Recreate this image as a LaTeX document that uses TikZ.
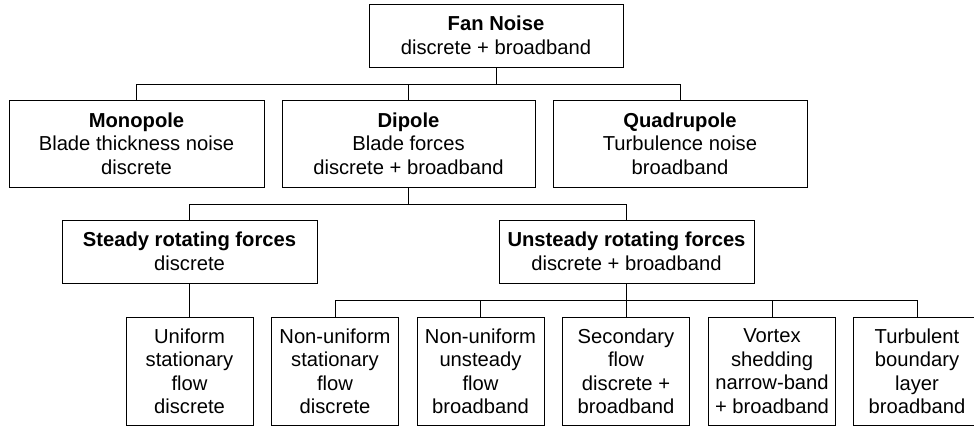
\documentclass[tikz,border=0pt]{standalone}
\usepackage{fontspec}
\setmainfont{Liberation Sans}
\begin{document}
\begin{tikzpicture}[x=1pt,y=-1pt,
  box/.style={draw=black,line width=1pt,rectangle,align=center,inner sep=0pt,
    font=\fontsize{20.2pt}{23.5pt}\selectfont},
  wide/.style={box,minimum width=254pt,minimum height=87pt},
  mid/.style={box,minimum width=255pt,minimum height=63pt},
  leaf/.style={box,minimum width=127pt,minimum height=108.5pt},
  link/.style={line width=1pt,line cap=rect}]
\clip (0,0) rectangle (974,426);
\fill[white] (0,0) rectangle (974,426);
\node[mid,minimum width=254pt] (fan) at (496,35.5) {\textbf{Fan Noise}\\discrete + broadband};
\node[wide,minimum width=255pt] (mono) at (136.5,143.5) {\textbf{Monopole}\\Blade thickness noise\\discrete};
\node[wide,minimum width=253pt] (dip) at (408.5,143.5) {\textbf{Dipole}\\Blade forces\\discrete + broadband};
\node[wide] (quad) at (680,143.5) {\textbf{Quadrupole}\\Turbulence noise\\broadband};
\node[mid] (steady) at (189.5,251.5) {\textbf{Steady rotating forces}\\discrete};
\node[mid] (unsteady) at (626.5,251.5) {\textbf{Unsteady rotating forces}\\discrete + broadband};
\node[leaf] (uni) at (189.5,371.25) {Uniform\\stationary\\flow\\discrete};
\node[leaf] (nus) at (335,371.25) {Non-uniform\\stationary\\flow\\discrete};
\node[leaf] (nuu) at (480.5,371.25) {Non-uniform\\unsteady\\flow\\broadband};
\node[leaf] (sec) at (626,371.25) {Secondary\\flow\\discrete +\\broadband};
\node[leaf] (vor) at (772,371.25) {Vortex\\shedding\\narrow-band\\+ broadband};
\node[leaf] (tur) at (917,371.25) {Turbulent\\boundary\\layer\\broadband};
\coordinate (busA) at (0,84);
\coordinate (busB) at (0,204);
\coordinate (busC) at (0,300);
\draw[link] (fan.south) -- (fan.south |- busA);
\draw[link] (mono.north) |- (busA -| quad.north) -- (quad.north);
\draw[link] (dip.north) -- (dip.north |- busA);
\draw[link] (dip.south) -- (dip.south |- busB);
\draw[link] (steady.north) |- (busB -| unsteady.north) -- (unsteady.north);
\draw[link] (steady.south) -- (uni.north);
\draw[link] (unsteady.south) -- (unsteady.south |- busC);
\draw[link] (nus.north) |- (busC -| tur.north) -- (tur.north);
\draw[link] (nuu.north) -- (nuu.north |- busC);
\draw[link] (sec.north) -- (sec.north |- busC);
\draw[link] (vor.north) -- (vor.north |- busC);
\end{tikzpicture}
\end{document}
